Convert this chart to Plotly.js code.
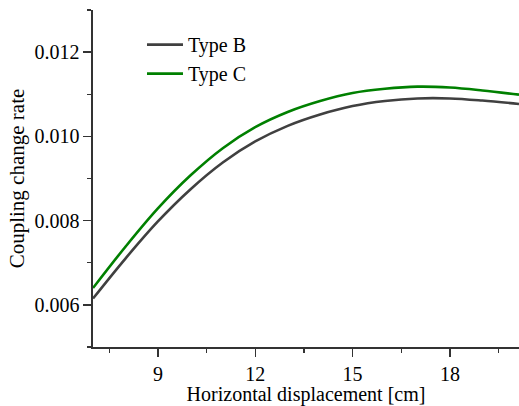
<!DOCTYPE html>
<html>
<head>
<meta charset="utf-8">
<script src="https://cdn.plot.ly/plotly-3.0.1.min.js"></script>
<style>html,body{margin:0;padding:0;background:#fff;}#chart{width:519px;height:406px;}</style>
</head>
<body>
<div id="chart"></div>
<script>
const displacement = [7, 8, 9, 10, 11, 12, 13, 14, 15, 16, 17, 18, 19, 20.13];
const typeB = [0.00615, 0.00710, 0.00798, 0.00874, 0.00938, 0.00988, 0.01025, 0.01052, 0.01072, 0.01084, 0.01090, 0.01090, 0.01085, 0.01077];
const typeC = [0.00640, 0.00738, 0.00829, 0.00907, 0.00972, 0.01022, 0.01058, 0.01084, 0.01103, 0.01113, 0.01118, 0.01116, 0.01109, 0.01099];
const seriesNames = ["Type B", "Type C"];
const xTickVals = [9, 12, 15, 18];
const yTickVals = [0.006, 0.008, 0.010, 0.012];

const fam = "Times New Roman, Liberation Serif, DejaVu Serif, serif";
const traces = [
  {x: displacement, y: typeB, name: seriesNames[0], mode: "lines", line: {color: "#404040", width: 2.6, shape: "spline", smoothing: 1}},
  {x: displacement, y: typeC, name: seriesNames[1], mode: "lines", line: {color: "#008000", width: 2.6, shape: "spline", smoothing: 1}}
];
const layout = {
  width: 519, height: 406,
  margin: {l: 93, r: 0, t: 10, b: 59},
  paper_bgcolor: "#fff", plot_bgcolor: "#fff",
  font: {family: fam, color: "#000", size: 20},
  showlegend: true,
  legend: {x: 0.115, y: 0.955, xanchor: "left", yanchor: "top", bgcolor: "rgba(0,0,0,0)", font: {family: fam, size: 20, color: "#000"}, tracegroupgap: 0, itemwidth: 36},
  xaxis: {
    range: [7, 20.13], tickvals: xTickVals, ticks: "outside", ticklen: 8, tickwidth: 1.3, tickcolor: "#333",
    showline: true, linecolor: "#333", linewidth: 1.6, showgrid: false, zeroline: false,
    tickfont: {family: fam, size: 20, color: "#000"},
    minor: {dtick: 1.5, tick0: 0, ticks: "outside", ticklen: 4, tickcolor: "#333", showgrid: false},
    title: {text: "Horizontal displacement [cm]", font: {family: fam, size: 20, color: "#000"}, standoff: 2}
  },
  yaxis: {
    range: [0.005, 0.013], tickvals: yTickVals, tickformat: ".3f", ticks: "outside", ticklen: 8, tickwidth: 1.3, tickcolor: "#333",
    showline: true, linecolor: "#333", linewidth: 1.6, showgrid: false, zeroline: false,
    tickfont: {family: fam, size: 20, color: "#000"},
    minor: {dtick: 0.001, tick0: 0, ticks: "outside", ticklen: 4, tickcolor: "#333", showgrid: false},
    title: {text: "Coupling change rate", font: {family: fam, size: 21, color: "#000"}, standoff: 4}
  }
};
Plotly.newPlot("chart", traces, layout, {displayModeBar: false, staticPlot: true});
</script>
</body>
</html>
